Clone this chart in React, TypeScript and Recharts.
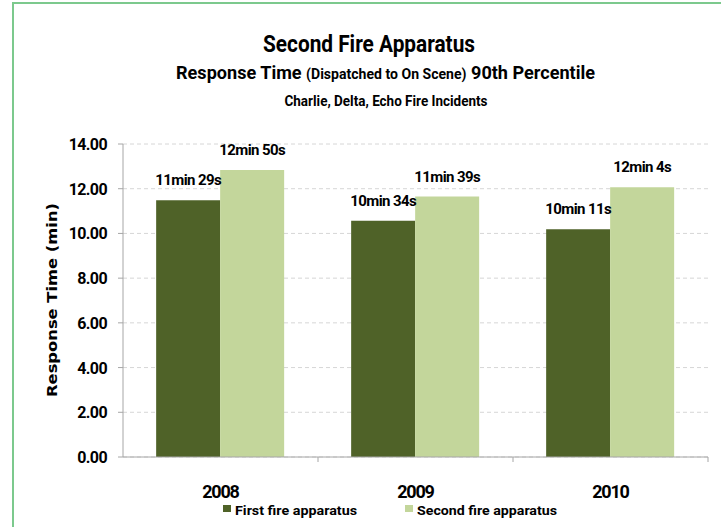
import React from 'react';
import { BarChart, Bar, XAxis, YAxis, CartesianGrid, LabelList } from 'recharts';

const years = ['2008', '2009', '2010'];
const firstFire = [11.483, 10.567, 10.183];
const secondFire = [12.833, 11.65, 12.067];
const firstLabels = ['11min 29s', '10min 34s', '10min 11s'];
const secondLabels = ['12min 50s', '11min 39s', '12min 4s'];
const yTicks = [0, 2, 4, 6, 8, 10, 12, 14];

const data = years.map((year, i) => ({
  year,
  first: firstFire[i],
  second: secondFire[i],
  firstLabel: firstLabels[i],
  secondLabel: secondLabels[i],
}));

const FONT = 'Roboto, "Liberation Sans", sans-serif';
const DARK = '#4F6228';
const LIGHT = '#C3D69B';
const AXIS = '#A6A6A6';

const YearTick = (props: any) => {
  const { x, y, payload } = props;
  const edge = x + (payload.offset || 0);
  return (
    <g>
      <line x1={edge} y1={y - 8} x2={edge} y2={y - 3} stroke={AXIS} />
      <text x={x} y={y + 33} textAnchor="middle" fontFamily={FONT} fontWeight="bold" fontSize={18} letterSpacing={-1.2} fill="#000">
        {payload.value}
      </text>
    </g>
  );
};

const ValueTick = (props: any) => {
  const { x, y, payload } = props;
  return (
    <text x={x - 9} y={y + 6} textAnchor="end" fontFamily={FONT} fontWeight="bold" fontSize={16} letterSpacing={-0.6} fill="#000">
      {Number(payload.value).toFixed(2)}
    </text>
  );
};

const TopLabel = (props: any) => {
  const { x, y, width, value } = props;
  return (
    <text x={x + width / 2} y={y - 15} textAnchor="middle" fontFamily={FONT} fontWeight="bold" fontSize={15} letterSpacing={-0.6} fill="#000">
      {value}
    </text>
  );
};

const legendItems = [
  { name: 'First fire apparatus', color: DARK, left: 223, textLength: 122 },
  { name: 'Second fire apparatus', color: LIGHT, left: 405, textLength: 140 },
];

export default function App() {
  return (
    <div style={{ position: 'absolute', left: 0, top: 0, width: 721, height: 527, overflow: 'hidden', background: '#fff' }}>
      <div style={{ position: 'absolute', left: 12, top: 2, width: 800, height: 600, border: '2px solid #7CC98D' }} />
      <BarChart
        width={721}
        height={527}
        data={data}
        margin={{ top: 144, right: 13, bottom: 40, left: 0 }}
        barCategoryGap="17%"
        barGap={0}
        style={{ position: 'absolute', left: 0, top: 0 }}
      >
        <CartesianGrid vertical={false} stroke="#D6D6D6" strokeDasharray="4 3" />
        <XAxis dataKey="year" height={30} axisLine={{ stroke: AXIS }} tickLine={false} tick={<YearTick />} interval={0} />
        <YAxis
          width={123}
          domain={[0, 14]}
          ticks={yTicks}
          interval={0}
          axisLine={{ stroke: AXIS }}
          tickLine={{ stroke: AXIS }}
          tickSize={5}
          tick={<ValueTick />}
          label={{
            content: () => (
              <text
                x={57}
                y={300}
                transform="rotate(-90 57 300)"
                textAnchor="middle"
                fontFamily='"DejaVu Sans", Verdana, sans-serif'
                fontWeight="bold"
                fontSize={14}
                textLength={194}
                lengthAdjust="spacingAndGlyphs"
                fill="#000"
              >
                Response Time (min)
              </text>
            ),
          }}
        />
        <Bar dataKey="first" fill={DARK} isAnimationActive={false}>
          <LabelList dataKey="firstLabel" content={<TopLabel />} />
        </Bar>
        <Bar dataKey="second" fill={LIGHT} isAnimationActive={false}>
          <LabelList dataKey="secondLabel" content={<TopLabel />} />
        </Bar>
      </BarChart>
      <svg width={721} height={527} style={{ position: 'absolute', left: 0, top: 0, pointerEvents: 'none' }}>
        <g fontFamily={FONT} fontWeight="bold" fill="#000">
          <text x={369} y={52} textAnchor="middle" fontSize={24} textLength={212} lengthAdjust="spacingAndGlyphs">
            Second Fire Apparatus
          </text>
          <text x={385.5} y={79} textAnchor="middle" fontSize={18} textLength={419} lengthAdjust="spacingAndGlyphs">
            Response Time <tspan fontSize={14}>(Dispatched to On Scene)</tspan> 90th Percentile
          </text>
          <text x={386} y={106} textAnchor="middle" fontSize={15} textLength={203} lengthAdjust="spacingAndGlyphs">
            Charlie, Delta, Echo Fire Incidents
          </text>
        </g>
        {legendItems.map((item) => (
          <g key={item.name}>
            <rect x={item.left} y={505} width={8} height={7} fill={item.color} />
            <text
              x={item.left + 12}
              y={515}
              fontFamily={FONT}
              fontWeight="bold"
              fontSize={13}
              textLength={item.textLength}
              lengthAdjust="spacingAndGlyphs"
              fill="#000"
            >
              {item.name}
            </text>
          </g>
        ))}
      </svg>
    </div>
  );
}
